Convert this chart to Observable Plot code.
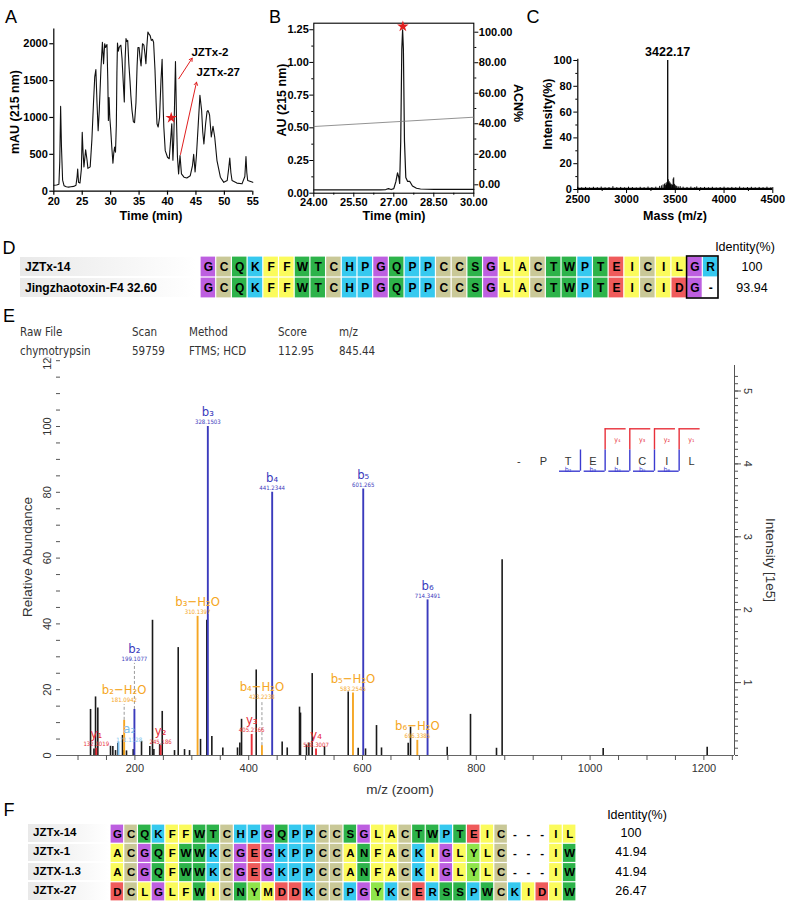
<!DOCTYPE html>
<html><head><meta charset="utf-8">
<script src="https://cdn.jsdelivr.net/npm/d3@7"></script>
<script src="https://cdn.jsdelivr.net/npm/@observablehq/plot@0.6"></script>
<style>
body{margin:0;background:#fff;}
#root{position:relative;width:788px;height:907px;overflow:hidden;background:#fff;}
</style></head>
<body><div id="root"></div>
<script>
// ================= DATA =================
// Panel A: crude venom RP-HPLC (time min, mAU)
const timeTicksA = [20,25,30,35,40,45,50,55];
const mauTicksA = [0,500,1000,1500,2000];
const chromA = [[20.0,80],[20.5,85],[20.9,95],[21.05,400],[21.2,1150],[21.35,600],[21.55,150],[21.8,75],[22.2,60],[22.6,55],[23.0,60],[23.5,65],[23.9,80],[24.1,200],[24.2,300],[24.35,120],[24.6,110],[24.85,300],[25.0,800],[25.15,520],[25.3,330],[25.6,560],[25.85,420],[26.0,310],[26.4,330],[26.7,700],[27.0,1230],[27.2,1550],[27.4,1650],[27.6,1200],[27.8,820],[28.0,1100],[28.3,1680],[28.55,2020],[28.75,1730],[28.95,2000],[29.1,1950],[29.35,1990],[29.5,1500],[29.6,960],[29.72,1270],[29.85,1000],[30.0,845],[30.2,600],[30.4,380],[30.55,520],[30.7,600],[30.85,530],[31.0,900],[31.1,1600],[31.2,2010],[31.35,1900],[31.5,1950],[31.65,1970],[31.8,1980],[32.0,1800],[32.2,1500],[32.4,1210],[32.55,1800],[32.7,2070],[32.85,2030],[33.0,2045],[33.2,1730],[33.4,1500],[33.55,1300],[33.75,1100],[34.0,940],[34.2,930],[34.45,1200],[34.65,1700],[34.8,1950],[35.0,1950],[35.15,1820],[35.35,1700],[35.6,2000],[35.85,1980],[36.05,1850],[36.2,1730],[36.35,1950],[36.55,2160],[36.75,2130],[36.95,2110],[37.15,2045],[37.35,2060],[37.55,2020],[37.8,1640],[38.0,1200],[38.15,915],[38.35,870],[38.6,1000],[38.85,1500],[39.05,1790],[39.25,1100],[39.35,870],[39.6,550],[40.0,460],[40.3,440],[40.5,640],[40.75,915],[40.95,420],[41.1,700],[41.4,1760],[41.6,900],[41.75,460],[41.95,235],[42.2,485],[42.45,235],[42.9,190],[43.4,180],[44.0,210],[44.4,350],[44.6,500],[44.85,260],[45.1,500],[45.4,900],[45.7,1300],[46.0,1095],[46.2,800],[46.4,640],[46.7,915],[46.95,1080],[47.1,1095],[47.3,1060],[47.4,1030],[47.7,735],[48.0,880],[48.3,735],[48.7,415],[49.3,190],[49.9,120],[50.5,145],[50.75,300],[50.95,450],[51.15,250],[51.35,145],[52.2,110],[53.1,100],[53.6,200],[53.8,470],[53.95,250],[54.1,145],[55.0,120]];
const arrowsA = [
  {name:"JZTx-2", x1:41.98, y1:1525, x2:44.34, y2:1805, tx:44.2, ty:1886},
  {name:"JZTx-27", x1:42.28, y1:498, x2:45.1, y2:1479, tx:45.1, ty:1615}
];
const starA = [{t:40.65, v:996}];

// Panel B: purified peak (time, AU) + ACN gradient
const timeTicksB = [24, 25.5, 27, 28.5, 30];
const auTicksB = [0, 0.25, 0.5, 0.75, 1.0, 1.25];
const acnTicksB = [0, 20, 40, 60, 80, 100];
const chromB = [[24.0,0.025],[24.5,0.025],[25.0,0.025],[25.5,0.025],[26.0,0.025],[26.5,0.026],[26.7,0.028],[26.8,0.035],[26.9,0.028],[27.0,0.035],[27.08,0.09],[27.14,0.155],[27.19,0.12],[27.22,0.075],[27.26,0.4],[27.3,1.1],[27.33,1.25],[27.36,1.1],[27.4,0.4],[27.45,0.12],[27.52,0.09],[27.6,0.09],[27.7,0.055],[27.85,0.038],[28.0,0.032],[28.5,0.03],[29.0,0.029],[29.5,0.029],[30.0,0.029]];
const acnB = [[24, 38.2], [30, 44.3]];
const starB = [{t:27.34, v:1.275}];

// Panel C: mass spectrum (m/z, intensity %)
const massTicksC = [2500,3000,3500,4000,4500];
const intTicksC = [0,20,40,60,80,100];
const basePeakC = [{mass:3422.17, v:100, label:"3422.17"}];
const baseC = [[2500,1.0],[4500,1.0]];
const spikesC = [[2500,1.8],[2540,1.3],[2580,1.6],[2620,1.2],[2660,1.7],[2700,1.4],[2740,1.9],[2780,1.3],[2820,1.5],[2860,2.2],[2900,1.4],[2940,1.6],[2980,1.3],[3020,1.8],[3060,1.5],[3100,1.2],[3140,1.7],[3180,1.4],[3220,1.9],[3260,1.5],[3300,1.8],[3340,2.4],[3360,2.8],[3375,3.5],[3390,4.2],[3398,3.0],[3405,4.8],[3410,3.6],[3415,5.5],[3428,7.5],[3432,5.2],[3437,6.0],[3442,4.4],[3447,5.0],[3452,3.6],[3458,4.0],[3465,3.0],[3472,3.4],[3478,8.0],[3484,9.0],[3490,4.0],[3497,3.2],[3505,2.6],[3515,2.4],[3530,2.0],[3550,2.2],[3580,1.8],[3620,1.6],[3660,1.9],[3700,1.5],[3720,2.0],[3760,1.4],[3800,1.6],[3840,1.3],[3880,1.7],[3920,1.2],[3960,1.5],[4000,1.8],[4040,1.3],[4080,1.6],[4120,1.4],[4160,1.9],[4200,1.2],[4240,1.5],[4280,1.7],[4320,1.3],[4360,1.6],[4400,1.4],[4440,1.8],[4480,1.3],[4500,1.5]];

// Panel D: alignment
const namesD = ["JZTx-14", "Jingzhaotoxin-F4 32.60"];
const seqD = ["GCQKFFWTCHPGQPPCCSGLACTWPTEICILGR", "GCQKFFWTCHPGQPPCCSGLACTWPTEICIDG-"];
const identD = ["100", "93.94"];
const boxColsD = [32, 33];

// Panel E: MS/MS spectrum
const headE = ["Raw File","Scan","Method","Score","m/z"];
const valsE = ["chymotrypsin","59759","FTMS; HCD","112.95","845.44"];
const mzTicksE = [200,400,600,800,1000,1200];
const relTicksE = [0,20,40,60,80,100,120];
const intTicksE = [1,2,3,4,5];
const intAxisTopE = 5.35;
const blackPeaks = [[122.0,14.0],[128.0,2.0],[130.8,17.8],[134.8,14.4],[157.1,2.8],[161.2,2.7],[165.9,1.5],[169.9,3.7],[178.2,6.1],[180.5,1.5],[185.2,1.4],[197.0,1.8],[211.6,4.3],[226.2,2.7],[230.9,41.1],[233.3,1.8],[243.5,3.3],[248.0,13.4],[269.6,1.5],[276.1,32.8],[287.2,1.8],[296.0,1.5],[315.3,4.9],[326.4,41.1],[335.2,5.8],[354.5,2.3],[380.3,2.3],[384.4,3.8],[387.4,11.0],[413.2,26.0],[458.8,4.1],[467.7,2.3],[489.3,14.7],[491.0,12.9],[501.6,3.2],[505.7,3.8],[511.6,24.9],[533.2,2.7],[574.9,19.3],[592.4,2.2],[605.3,2.0],[624.6,9.1],[633.4,2.3],[680.3,3.7],[684.4,8.6],[748.9,2.5],[789.8,12.5],[835.5,2.2],[845.4,59.5],[1023.0,2.1],[1205.8,2.5]];
const ions = [
  {ion:"y₁", mz:132.1019, v:2.2, type:"y", lab:"132.1019"},
  {ion:"a₂", mz:171.1128, v:4.0, type:"a", lab:"171.1128", lx:190, lv:3.6},
  {ion:"b₂−H₂O", mz:181.0942, v:10.7, type:"bw", lab:"181.0942", lv:15.5},
  {ion:"b₂", mz:199.1077, v:14.0, type:"b", lab:"199.1077", lv:28.0},
  {ion:"y₂", mz:245.186, v:3.0, type:"y", lab:"245.186"},
  {ion:"b₃−H₂O", mz:310.1397, v:42.3, type:"bw", lab:"310.1397"},
  {ion:"b₃", mz:328.1503, v:100, type:"b", lab:"328.1503"},
  {ion:"y₃", mz:405.2166, v:6.4, type:"y", lab:"405.2166"},
  {ion:"b₄−H₂O", mz:423.2238, v:3.0, type:"bw", lab:"423.2238", lv:16.4},
  {ion:"b₄", mz:441.2344, v:80, type:"b", lab:"441.2344"},
  {ion:"y₄", mz:518.3007, v:2.0, type:"y", lab:"518.3007"},
  {ion:"b₅−H₂O", mz:583.2545, v:19.0, type:"bw", lab:"583.2545"},
  {ion:"b₅", mz:601.265, v:81, type:"b", lab:"601.265"},
  {ion:"b₆−H₂O", mz:696.3385, v:4.6, type:"bw", lab:"696.3385"},
  {ion:"b₆", mz:714.3491, v:47.3, type:"b", lab:"714.3491"}
];
const fragSeq = ["-","P","T","E","I","C","I","L"];
const yIons = [1,2,3,4];
const bIons = [2,3,4,5,6];

// Panel F: alignment
const namesF = ["JZTx-14","JZTx-1","JZTX-1.3","JZTx-27"];
const seqF = ["GCQKFFWTCHPGQPPCCSGLACTWPTEIC---IL","ACGQFWWKCGEGKPPCCANFACKIGLYLC---IW","ACGQFWWKCGEGKPPCCANFACKIGLYLC---IW","DCLGLFWICNYMDDKCCPGYKCERSSPWCKIDIW"];
const identF = ["100","41.94","41.94","26.47"];

// ================= STYLE =================
const FONT = '"Liberation Sans", Arial, Helvetica, sans-serif';
const COND = '"DejaVu Sans Condensed", "Liberation Sans Narrow", sans-serif';
const aaColor = {G:"#bd5fe0", C:"#c9c897", Q:"#2db34a", K:"#36c9ef", F:"#fbfb5c", W:"#2db34a", T:"#2db34a", H:"#36c9ef", P:"#36c9ef", S:"#2db34a", L:"#fbfb5c", A:"#fbfb5c", E:"#ef5b5b", I:"#fbfb5c", R:"#36c9ef", D:"#ef5b5b", N:"#2db34a", Y:"#8fe54b", M:"#fbfb5c", V:"#fbfb5c", "-":"#ffffff"};
const ionColor = {b:"#3b3bbd", bw:"#f5a623", y:"#e8303a", a:"#7dbfee"};

const root = document.getElementById("root");
function place(el, left, top){ el.style.position="absolute"; el.style.left=left+"px"; el.style.top=top+"px"; root.appendChild(el); return el; }
function label(text, x, y, o={}){
  const d=document.createElement("div"); d.textContent=text;
  Object.assign(d.style,{position:"absolute",left:x+"px",top:y+"px",whiteSpace:"nowrap",fontSize:(o.size||12)+"px",fontWeight:o.weight||"normal",color:o.color||"#000",fontFamily:o.family||FONT,lineHeight:"1",fontStretch:o.stretch||"normal"});
  const ax = o.anchor==="start"?"0":o.anchor==="end"?"-100%":"-50%";
  d.style.transform=`translate(${ax},-50%)`+(o.rotate?` rotate(${o.rotate}deg)`:"");
  root.appendChild(d); return d;
}
const baseStyle = {fontFamily: FONT, fontSize:"11px", fontWeight:"bold", background:"transparent", overflow:"visible", color:"#000"};
const plain = d => String(d);

// ================= PANEL A =================
label("A", 11, 17, {size:18});
place(Plot.plot({
  width:265, height:225, marginLeft:53.3, marginRight:12.7, marginTop:28.5, marginBottom:34.3,
  style: baseStyle,
  x:{domain:[20,55], axis:null}, y:{domain:[0,2200], axis:null},
  marks:[
    Plot.ruleX([20], {y1:0, y2:2200, stroke:"#000", strokeWidth:1.2}),
    Plot.ruleY([0], {x1:20, x2:55, stroke:"#000", strokeWidth:1.2}),
    Plot.axisX({ticks:timeTicksA, tickFormat:plain, tickSize:4, tickPadding:2, label:null, stroke:"#000", strokeWidth:1.2}),
    Plot.axisY({ticks:mauTicksA, tickFormat:plain, tickSize:4, tickPadding:2, label:null, stroke:"#000", strokeWidth:1.2}),
    Plot.line(chromA, {x:d=>d[0], y:d=>d[1], stroke:"#111", strokeWidth:1.1}),
    Plot.arrow(arrowsA, {x1:"x1", y1:"y1", x2:"x2", y2:"y2", stroke:"#e01f1f", strokeWidth:1, headLength:5}),
    Plot.text(arrowsA, {x:"tx", y:"ty", text:"name", textAnchor:"start", fontWeight:"bold", fontSize:11.5}),
    Plot.dot(starA, {x:"t", y:"v", symbol:"star", fill:"#e01f1f", r:3.6})
  ]
}), 0, 0);
label("mAU (215 nm)", 15, 112, {size:12.5, weight:"bold", rotate:-90});
label("Time (min)", 151, 216, {size:12.5, weight:"bold"});

// ================= PANEL B =================
label("B", 275, 17, {size:18});
const geomB = {width:290, height:225, marginLeft:63.3, marginRight:66.7, marginTop:22.7, marginBottom:32.3};
place(Plot.plot({
  ...geomB, style: baseStyle,
  x:{domain:[24,30], axis:null}, y:{domain:[0,1.3], axis:null},
  marks:[
    Plot.frame({stroke:"#000", strokeWidth:1.1}),
    Plot.axisX({ticks:timeTicksB, tickFormat:d3.format(".2f"), tickSize:4, tickPadding:1, label:null}),
    Plot.axisX({ticks:d3.pairs(timeTicksB).map(([a,b])=>(a+b)/2), tickFormat:()=>"", tickSize:2, label:null}),
    Plot.axisY({ticks:auTicksB, tickFormat:d3.format(".2f"), tickSize:4, tickPadding:1, label:null}),
    Plot.axisY({ticks:d3.pairs(auTicksB).map(([a,b])=>(a+b)/2), tickFormat:()=>"", tickSize:2, label:null}),
    Plot.line(chromB, {x:d=>d[0], y:d=>d[1], stroke:"#111", strokeWidth:1.2}),
    Plot.dot(starB, {x:"t", y:"v", symbol:"star", fill:"#e01f1f", r:3.6})
  ]
}), 250, 0);
place(Plot.plot({
  ...geomB, style: baseStyle,
  x:{domain:[24,30], axis:null}, y:{domain:[-5.5,105.9], axis:null},
  marks:[
    Plot.axisY({anchor:"right", ticks:acnTicksB, tickFormat:d3.format(".2f"), tickSize:4, tickPadding:1, label:null}),
    Plot.axisY({anchor:"right", ticks:d3.pairs(acnTicksB).map(([a,b])=>(a+b)/2), tickFormat:()=>"", tickSize:2, label:null}),
    Plot.line(acnB, {x:d=>d[0], y:d=>d[1], stroke:"#777", strokeWidth:0.8})
  ]
}), 250, 0);
label("AU (215 nm)", 282, 100, {size:12.5, weight:"bold", rotate:-90});
label("ACN%", 518, 103, {size:12.5, weight:"bold", rotate:90});
label("Time (min)", 394, 216, {size:12.5, weight:"bold"});

// ================= PANEL C =================
label("C", 533, 17, {size:18});
place(Plot.plot({
  width:268, height:225, marginLeft:57.3, marginRight:15.7, marginTop:58.7, marginBottom:36,
  style: baseStyle,
  x:{domain:[2500,4500], axis:null}, y:{domain:[0,101], axis:null},
  marks:[
    Plot.ruleX([2500], {y1:0, y2:101, stroke:"#000", strokeWidth:1.2}),
    Plot.ruleY([0], {x1:2500, x2:4500, stroke:"#000", strokeWidth:1.2}),
    Plot.axisX({ticks:massTicksC, tickSize:4, tickPadding:2, tickFormat:plain, label:null}),
    Plot.axisX({ticks:d3.pairs(massTicksC).map(([a,b])=>(a+b)/2), tickSize:2, tickFormat:()=>"", label:null}),
    Plot.axisY({ticks:intTicksC, tickSize:4, tickPadding:2, tickFormat:plain, label:null}),
    Plot.axisY({ticks:d3.pairs(intTicksC).map(([a,b])=>(a+b)/2), tickSize:2, tickFormat:()=>"", label:null}),
    Plot.areaY(baseC, {x:d=>d[0], y:d=>d[1], fill:"#000"}),
    Plot.ruleX(spikesC, {x:d=>d[0], y1:0, y2:d=>d[1], stroke:"#000", strokeWidth:1}),
    Plot.ruleX(basePeakC, {x:"mass", y1:0, y2:"v", stroke:"#000", strokeWidth:1.3}),
    Plot.text(basePeakC, {x:"mass", y:"v", text:"label", dy:-8, fontSize:12.5, fontWeight:"bold"})
  ]
}), 520, 0);
label("Intensity(%)", 548, 114, {size:12.5, weight:"bold", rotate:-90});
label("Mass (m/z)", 675, 216, {size:12.5, weight:"bold"});

// ================= ALIGNMENT helper =================
function alignment(names, seqs, opts){
  const cells = [];
  seqs.forEach((s,r)=>[...s].forEach((aa,i)=>cells.push({r, i:i+1, aa})));
  const n = seqs[0].length, rows = seqs.length;
  const marks = [
    Plot.rect(cells, {x1:d=>d.i-0.5, x2:d=>d.i+0.5, y1:d=>d.r, y2:d=>d.r+1, fill:d=>aaColor[d.aa], inset:0.6}),
    Plot.text(cells, {x:"i", y:d=>d.r+0.5, text:"aa", fontWeight:"bold", fontSize:opts.font, fill:"#000"})
  ];
  if (opts.box) marks.push(Plot.rect([opts.box], {x1:d=>d[0]-0.5, x2:d=>d[d.length-1]+0.5, y1:0, y2:rows, fill:"none", stroke:"#000", strokeWidth:1.6}));
  return Plot.plot({width:opts.w, height:opts.h, margin:0, style:{...baseStyle, fontFamily:FONT},
    x:{domain:[0.5,n+0.5], axis:null}, y:{domain:[rows,0], axis:null}, marks});
}
function rowLabels(names, left, width, top, rowH, fontSize){
  names.forEach((nm,r)=>{
    const bg=document.createElement("div");
    Object.assign(bg.style,{position:"absolute",left:left+"px",top:(top+r*rowH+0.8)+"px",width:width+"px",height:(rowH-1.6)+"px",background:"linear-gradient(to right, #e9e9e9, #f6f6f6 60%, #ffffff)"});
    root.appendChild(bg);
    label(nm, left+5, top+r*rowH+rowH/2, {size:fontSize, weight:"bold", anchor:"start"});
  });
}

// ================= PANEL D =================
label("D", 9, 248, {size:18});
rowLabels(namesD, 20, 176, 256, 21, 12);
place(alignment(namesD, seqD, {w:518, h:42, font:12, box:boxColsD}), 200, 256);
label("Identity(%)", 745, 247, {size:12.5});
identD.forEach((v,r)=>label(v, 752, 256+21*r+10.5, {size:12.5}));

// ================= PANEL E =================
label("E", 9, 316, {size:18});
const headX = [20,132,189,278,339];
headE.forEach((t,i)=>label(t, headX[i], 333, {size:11.5, family:COND, color:"#333", anchor:"start"}));
valsE.forEach((t,i)=>label(t, headX[i], 352, {size:11.5, family:COND, color:"#333", anchor:"start"}));

const geomE = {width:788, height:435, marginLeft:60, marginRight:54, marginTop:0, marginBottom:37};
const xDomE = [69.2, 1253.8];
const relTop = 398/3.29, intTop = 398/72.9;
const styleE = {fontFamily:FONT, fontSize:"11px", fontWeight:"normal", background:"transparent", overflow:"hidden", color:"#333"};
const svgE = Plot.plot({
  ...geomE, style: styleE,
  x:{domain:xDomE, axis:null}, y:{domain:[0,relTop], axis:null},
  marks:[
    Plot.ruleY([0], {stroke:"#666", strokeWidth:1}),
    Plot.axisX({ticks:d3.range(100,1251,50), tickSize:5, tickPadding:4, tickFormat:d=>mzTicksE.includes(d)?String(d):"", label:null, stroke:"#555"}),
    Plot.axisY({ticks:d3.range(0,121,5), tickSize:4, tickFormat:()=>"", label:null, stroke:"#555"}),
    Plot.text(relTicksE, {frameAnchor:"left", y:d=>d, text:d=>String(d), rotate:-90, dx:-13, textAnchor:"middle", fill:"#333"}),
    Plot.ruleX(blackPeaks, {x:d=>d[0], y1:0, y2:d=>d[1], stroke:"#1a1a1a", strokeWidth:1.6}),
    Plot.ruleX(ions, {x:"mz", y1:0, y2:"v", stroke:d=>ionColor[d.type], strokeWidth:1.9}),
    Plot.ruleX(ions.filter(d=>d.lv && d.lv>d.v+2), {x:"mz", y1:"v", y2:"lv", stroke:"#9a9a9a", strokeDasharray:"3,2", strokeWidth:1}),
    Plot.text(ions, {x:d=>d.lx ?? d.mz, y:d=>d.lv ?? d.v, text:"ion", dy:-14.5, fill:d=>ionColor[d.type], fontSize:13, fontFamily:COND}),
    Plot.text(ions, {x:d=>d.lx ?? d.mz, y:d=>d.lv ?? d.v, text:"lab", dy:-4, fill:d=>ionColor[d.type], fontSize:6, fontFamily:COND})
  ]
});
place(svgE, 0, 357);
place(Plot.plot({
  ...geomE, style: styleE,
  x:{domain:xDomE, axis:null}, y:{domain:[0,intTop], axis:null},
  marks:[
    Plot.ruleX([xDomE[1]], {y1:0, y2:intAxisTopE, stroke:"#555", strokeWidth:1}),
    Plot.axisY({anchor:"right", ticks:d3.range(0,53).map(d=>d/10), tickSize:3, tickFormat:()=>"", label:null, stroke:"#555"}),
    Plot.axisY({anchor:"right", ticks:intTicksE, tickSize:6, tickFormat:()=>"", label:null, stroke:"#555"}),
    Plot.text(intTicksE, {frameAnchor:"right", y:d=>d, text:d=>String(d), rotate:90, dx:13, textAnchor:"middle", fill:"#333"})
  ]
}), 0, 357);
// fragment coverage inset
place(Plot.plot({
  width:210, height:60, marginLeft:0, marginRight:0, marginTop:8.3, marginBottom:9.3,
  style:{...styleE, overflow:"visible"},
  x:{domain:[-0.742, 7.771], axis:null}, y:{domain:[2,0], axis:null},
  marks:[
    Plot.text(fragSeq, {x:(d,i)=>i, y:1.53, text:d=>d, fontSize:11, fill:"#333"}),
    Plot.ruleX(yIons, {x:k=>7.5-k, y1:0, y2:1, stroke:"#e8303a", strokeWidth:1.4}),
    Plot.ruleY(yIons, {y:0, x1:k=>7.5-k, x2:k=>8.35-k, stroke:"#e8303a", strokeWidth:1.4}),
    Plot.text(yIons, {x:k=>8-k, y:0.52, text:k=>"y"+"₀₁₂₃₄₅₆"[k], fontSize:7, fill:"#e8303a", fontFamily:COND}),
    Plot.ruleX(bIons, {x:k=>k+0.5, y1:1, y2:2, stroke:"#3b3bd0", strokeWidth:1.4}),
    Plot.ruleY(bIons, {y:2, x1:k=>k-0.35, x2:k=>k+0.5, stroke:"#3b3bd0", strokeWidth:1.4}),
    Plot.text(bIons, {x:k=>k, y:1.95, text:k=>"b"+"₀₁₂₃₄₅₆"[k], fontSize:7, fill:"#3b3bd0", fontFamily:COND})
  ]
}), 500, 420);
label("Relative Abundance", 28, 557, {size:13.5, rotate:-90, color:"#333"});
label("Intensity [1e5]", 770, 560, {size:13.5, rotate:90, color:"#333"});
label("m/z (zoom)", 400, 790, {size:13.5, color:"#333"});

// ================= PANEL F =================
label("F", 9, 810, {size:18});
rowLabels(namesF, 28, 81, 823.5, 19.25, 11.5);
place(alignment(namesF, seqF, {w:466, h:77, font:11.5}), 110, 823.5);
label("Identity(%)", 637, 815, {size:12.5});
identF.forEach((v,r)=>label(v, 631, 823.5+19.25*r+9.6, {size:12.5}));
</script></body></html>
